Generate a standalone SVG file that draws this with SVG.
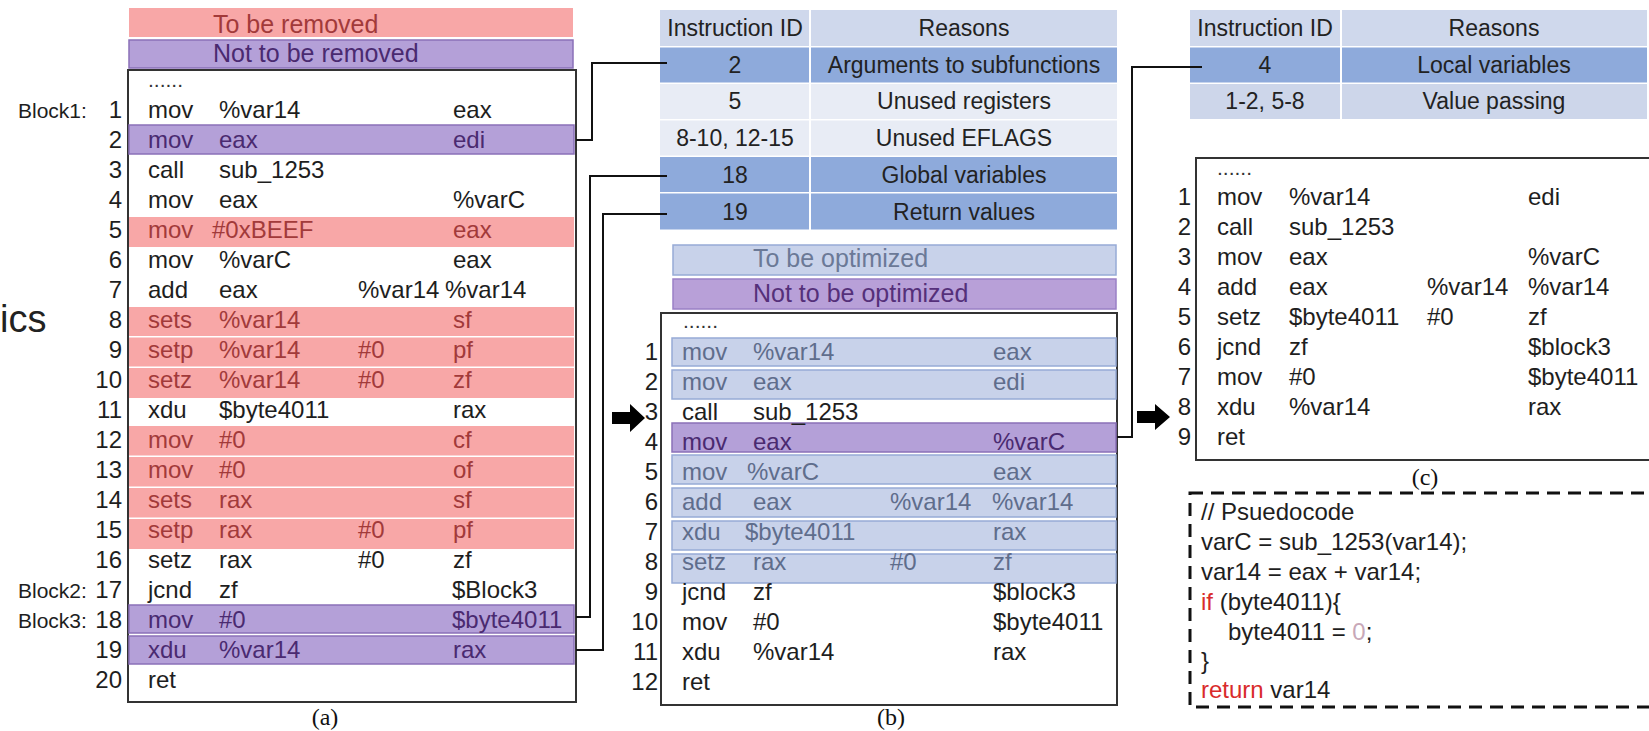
<svg xmlns="http://www.w3.org/2000/svg" width="1649" height="731" viewBox="0 0 1649 731">
  <style>
    text { font-family: "Liberation Sans", Arial, sans-serif; }
    .code { font-size: 24px; fill: #1e1e1e; }
    .num { font-size: 24px; fill: #1e1e1e; text-anchor: end; }
    .blk { font-size: 21px; fill: #1e1e1e; }
    .dots { font-size: 21px; fill: #333; }
    .cap { font-family: "Liberation Serif", "Times New Roman", serif; font-size: 24px; fill: #111; text-anchor: middle; }
    .box { fill: #fff; stroke: #333; stroke-width: 2; }
    .pink { fill: #f8a7a7; }
    .purp { fill: #b4a0d8; stroke: #8a70b8; stroke-width: 1.5; }
    .blue { fill: #c8d2ea; stroke: #97abd6; stroke-width: 1.5; }
    .t-rm { fill: #a23a3a; }
    .t-keep { fill: #4a2a70; }
    .t-opt { fill: #5f6d8c; }
    .th { fill: #cfd8ec; }
    .tm { fill: #8eaadb; }
    .tl { fill: #e8ecf5; }
    .tl2 { fill: #cdd6ea; }
    .tt { font-size: 23px; fill: #222; text-anchor: middle; }
    .leg { font-size: 25px; }
    .wire { fill: none; stroke: #111; stroke-width: 2; }
    .arrow { fill: #000; }
    .pc { font-size: 24px; fill: #1e1e1e; }
  </style>

  <!-- clipped heading word at the far left -->
  <text x="0" y="332" style="font-size:38px;fill:#222">ics</text>

  <!-- ===== Panel (a): original listing ===== -->
  <g id="legend-a">
    <rect x="129" y="8" width="444" height="29" class="pink"/>
    <text x="213" y="33" class="leg t-rm">To be removed</text>
    <rect x="129" y="40" width="444" height="28" class="purp"/>
    <text x="213" y="62" class="leg t-keep">Not to be removed</text>
  </g>

  <g id="listing-a">
    <rect x="128" y="70" width="448" height="632" class="box"/>
    <!-- row highlights -->
    <rect x="129" y="125" width="445" height="29" class="purp"/>
    <rect x="129" y="217" width="445" height="30" class="pink"/>
    <rect x="129" y="307" width="445" height="29" class="pink"/>
    <rect x="129" y="337.5" width="445" height="29" class="pink"/>
    <rect x="129" y="368" width="445" height="30" class="pink"/>
    <rect x="129" y="426" width="445" height="29.5" class="pink"/>
    <rect x="129" y="457" width="445" height="29.5" class="pink"/>
    <rect x="129" y="488" width="445" height="29.5" class="pink"/>
    <rect x="129" y="519" width="445" height="30" class="pink"/>
    <rect x="129" y="605" width="445" height="28" class="purp"/>
    <rect x="129" y="636" width="445" height="28" class="purp"/>

    <text x="18" y="118" class="blk">Block1:</text>
    <text x="18" y="598" class="blk">Block2:</text>
    <text x="18" y="628" class="blk">Block3:</text>

    <text x="148" y="87" class="dots">......</text>
    <g class="code">
      <text y="118"><tspan x="148">mov</tspan><tspan x="219">%var14</tspan><tspan x="453">eax</tspan></text>
      <text y="148" class="t-keep"><tspan x="148">mov</tspan><tspan x="219">eax</tspan><tspan x="453">edi</tspan></text>
      <text y="178"><tspan x="148">call</tspan><tspan x="219">sub_1253</tspan></text>
      <text y="208"><tspan x="148">mov</tspan><tspan x="219">eax</tspan><tspan x="453">%varC</tspan></text>
      <text y="238" class="t-rm"><tspan x="148">mov</tspan><tspan x="212">#0xBEEF</tspan><tspan x="453">eax</tspan></text>
      <text y="268"><tspan x="148">mov</tspan><tspan x="219">%varC</tspan><tspan x="453">eax</tspan></text>
      <text y="298"><tspan x="148">add</tspan><tspan x="219">eax</tspan><tspan x="358">%var14</tspan><tspan x="445">%var14</tspan></text>
      <text y="328" class="t-rm"><tspan x="148">sets</tspan><tspan x="219">%var14</tspan><tspan x="453">sf</tspan></text>
      <text y="358" class="t-rm"><tspan x="148">setp</tspan><tspan x="219">%var14</tspan><tspan x="358">#0</tspan><tspan x="453">pf</tspan></text>
      <text y="388" class="t-rm"><tspan x="148">setz</tspan><tspan x="219">%var14</tspan><tspan x="358">#0</tspan><tspan x="453">zf</tspan></text>
      <text y="418"><tspan x="148">xdu</tspan><tspan x="219">$byte4011</tspan><tspan x="453">rax</tspan></text>
      <text y="448" class="t-rm"><tspan x="148">mov</tspan><tspan x="219">#0</tspan><tspan x="453">cf</tspan></text>
      <text y="478" class="t-rm"><tspan x="148">mov</tspan><tspan x="219">#0</tspan><tspan x="453">of</tspan></text>
      <text y="508" class="t-rm"><tspan x="148">sets</tspan><tspan x="219">rax</tspan><tspan x="453">sf</tspan></text>
      <text y="538" class="t-rm"><tspan x="148">setp</tspan><tspan x="219">rax</tspan><tspan x="358">#0</tspan><tspan x="453">pf</tspan></text>
      <text y="568"><tspan x="148">setz</tspan><tspan x="219">rax</tspan><tspan x="358">#0</tspan><tspan x="453">zf</tspan></text>
      <text y="598"><tspan x="148">jcnd</tspan><tspan x="219">zf</tspan><tspan x="452">$Block3</tspan></text>
      <text y="628" class="t-keep"><tspan x="148">mov</tspan><tspan x="219">#0</tspan><tspan x="452">$byte4011</tspan></text>
      <text y="658" class="t-keep"><tspan x="148">xdu</tspan><tspan x="219">%var14</tspan><tspan x="453">rax</tspan></text>
      <text y="688"><tspan x="148">ret</tspan></text>
    </g>
    <g class="num">
      <text x="122" y="118">1</text><text x="122" y="148">2</text><text x="122" y="178">3</text>
      <text x="122" y="208">4</text><text x="122" y="238">5</text><text x="122" y="268">6</text>
      <text x="122" y="298">7</text><text x="122" y="328">8</text><text x="122" y="358">9</text>
      <text x="122" y="388">10</text><text x="122" y="418">11</text><text x="122" y="448">12</text>
      <text x="122" y="478">13</text><text x="122" y="508">14</text><text x="122" y="538">15</text>
      <text x="122" y="568">16</text><text x="122" y="598">17</text><text x="122" y="628">18</text>
      <text x="122" y="658">19</text><text x="122" y="688">20</text>
    </g>
    <text x="325" y="725" class="cap">(a)</text>
  </g>

  <!-- ===== Reasons table for (a) -> (b) ===== -->
  <g id="table-b">
    <rect x="660" y="10" width="149" height="36" class="th"/>
    <rect x="811" y="10" width="306" height="36" class="th"/>
    <rect x="660" y="47.5" width="149" height="35" class="tm"/>
    <rect x="811" y="47.5" width="306" height="35" class="tm"/>
    <rect x="660" y="84" width="149" height="35" class="tl"/>
    <rect x="811" y="84" width="306" height="35" class="tl"/>
    <rect x="660" y="120.5" width="149" height="35" class="tl"/>
    <rect x="811" y="120.5" width="306" height="35" class="tl"/>
    <rect x="660" y="157" width="149" height="35" class="tm"/>
    <rect x="811" y="157" width="306" height="35" class="tm"/>
    <rect x="660" y="193.5" width="149" height="36" class="tm"/>
    <rect x="811" y="193.5" width="306" height="36" class="tm"/>
    <text x="735" y="36" class="tt">Instruction ID</text>
    <text x="964" y="36" class="tt">Reasons</text>
    <text x="735" y="73" class="tt">2</text>
    <text x="964" y="73" class="tt">Arguments to subfunctions</text>
    <text x="735" y="109" class="tt">5</text>
    <text x="964" y="109" class="tt">Unused registers</text>
    <text x="735" y="146" class="tt">8-10, 12-15</text>
    <text x="964" y="146" class="tt">Unused EFLAGS</text>
    <text x="735" y="183" class="tt">18</text>
    <text x="964" y="183" class="tt">Global variables</text>
    <text x="735" y="220" class="tt">19</text>
    <text x="964" y="220" class="tt">Return values</text>
  </g>

  <!-- ===== Panel (b): after removal ===== -->
  <g id="legend-b">
    <rect x="673" y="245" width="443" height="30" class="blue"/>
    <text x="753" y="267" class="leg" style="fill:#6b7997">To be optimized</text>
    <rect x="673" y="279" width="443" height="30" style="fill:#b8a0d8;stroke:#9a80c6;stroke-width:1.5"/>
    <text x="753" y="302" class="leg" style="fill:#55307a">Not to be optimized</text>
  </g>

  <g id="listing-b">
    <rect x="661" y="313" width="456" height="392" class="box"/>
    <rect x="672" y="338" width="444" height="28" class="blue"/>
    <rect x="672" y="370" width="444" height="29" class="blue"/>
    <rect x="672" y="423" width="444" height="29" class="purp"/>
    <rect x="672" y="455" width="444" height="29" class="blue"/>
    <rect x="672" y="488" width="444" height="29" class="blue"/>
    <rect x="672" y="521" width="444" height="29" class="blue"/>
    <rect x="672" y="554" width="444" height="29" class="blue"/>

    <text x="683" y="328" class="dots">......</text>
    <g class="code">
      <text y="360" class="t-opt"><tspan x="682">mov</tspan><tspan x="753">%var14</tspan><tspan x="993">eax</tspan></text>
      <text y="390" class="t-opt"><tspan x="682">mov</tspan><tspan x="753">eax</tspan><tspan x="993">edi</tspan></text>
      <text y="420"><tspan x="682">call</tspan><tspan x="753">sub_1253</tspan></text>
      <text y="450" class="t-keep"><tspan x="682">mov</tspan><tspan x="753">eax</tspan><tspan x="993">%varC</tspan></text>
      <text y="480" class="t-opt"><tspan x="682">mov</tspan><tspan x="747">%varC</tspan><tspan x="993">eax</tspan></text>
      <text y="510" class="t-opt"><tspan x="682">add</tspan><tspan x="753">eax</tspan><tspan x="890">%var14</tspan><tspan x="992">%var14</tspan></text>
      <text y="540" class="t-opt"><tspan x="682">xdu</tspan><tspan x="745">$byte4011</tspan><tspan x="993">rax</tspan></text>
      <text y="570" class="t-opt"><tspan x="682">setz</tspan><tspan x="753">rax</tspan><tspan x="890">#0</tspan><tspan x="993">zf</tspan></text>
      <text y="600"><tspan x="682">jcnd</tspan><tspan x="753">zf</tspan><tspan x="993">$block3</tspan></text>
      <text y="630"><tspan x="682">mov</tspan><tspan x="753">#0</tspan><tspan x="993">$byte4011</tspan></text>
      <text y="660"><tspan x="682">xdu</tspan><tspan x="753">%var14</tspan><tspan x="993">rax</tspan></text>
      <text y="690"><tspan x="682">ret</tspan></text>
    </g>
    <g class="num">
      <text x="658" y="360">1</text><text x="658" y="390">2</text><text x="658" y="420">3</text>
      <text x="658" y="450">4</text><text x="658" y="480">5</text><text x="658" y="510">6</text>
      <text x="658" y="540">7</text><text x="658" y="570">8</text><text x="658" y="600">9</text>
      <text x="658" y="630">10</text><text x="658" y="660">11</text><text x="658" y="690">12</text>
    </g>
    <text x="891" y="725" class="cap">(b)</text>
  </g>

  <!-- ===== Reasons table for (b) -> (c) ===== -->
  <g id="table-c">
    <rect x="1190" y="10" width="150" height="36" class="th"/>
    <rect x="1342" y="10" width="305" height="36" class="th"/>
    <rect x="1190" y="47.5" width="150" height="35" class="tm"/>
    <rect x="1342" y="47.5" width="305" height="35" class="tm"/>
    <rect x="1190" y="84" width="150" height="35" class="tl2"/>
    <rect x="1342" y="84" width="305" height="35" class="tl2"/>
    <text x="1265" y="36" class="tt">Instruction ID</text>
    <text x="1494" y="36" class="tt">Reasons</text>
    <text x="1265" y="73" class="tt">4</text>
    <text x="1494" y="73" class="tt">Local variables</text>
    <text x="1265" y="109" class="tt">1-2, 5-8</text>
    <text x="1494" y="109" class="tt">Value passing</text>
  </g>

  <!-- ===== Panel (c): optimized listing ===== -->
  <g id="listing-c">
    <rect x="1196" y="158" width="470" height="302" class="box"/>
    <text x="1217" y="175" class="dots">......</text>
    <g class="code">
      <text y="205"><tspan x="1217">mov</tspan><tspan x="1289">%var14</tspan><tspan x="1528">edi</tspan></text>
      <text y="235"><tspan x="1217">call</tspan><tspan x="1289">sub_1253</tspan></text>
      <text y="265"><tspan x="1217">mov</tspan><tspan x="1289">eax</tspan><tspan x="1528">%varC</tspan></text>
      <text y="295"><tspan x="1217">add</tspan><tspan x="1289">eax</tspan><tspan x="1427">%var14</tspan><tspan x="1528">%var14</tspan></text>
      <text y="325"><tspan x="1217">setz</tspan><tspan x="1289">$byte4011</tspan><tspan x="1427">#0</tspan><tspan x="1528">zf</tspan></text>
      <text y="355"><tspan x="1217">jcnd</tspan><tspan x="1289">zf</tspan><tspan x="1528">$block3</tspan></text>
      <text y="385"><tspan x="1217">mov</tspan><tspan x="1289">#0</tspan><tspan x="1528">$byte4011</tspan></text>
      <text y="415"><tspan x="1217">xdu</tspan><tspan x="1289">%var14</tspan><tspan x="1528">rax</tspan></text>
      <text y="445"><tspan x="1217">ret</tspan></text>
    </g>
    <g class="num">
      <text x="1191" y="205">1</text><text x="1191" y="235">2</text><text x="1191" y="265">3</text>
      <text x="1191" y="295">4</text><text x="1191" y="325">5</text><text x="1191" y="355">6</text>
      <text x="1191" y="385">7</text><text x="1191" y="415">8</text><text x="1191" y="445">9</text>
    </g>
    <text x="1425" y="485" class="cap">(c)</text>
  </g>

  <!-- ===== Pseudocode ===== -->
  <g id="pseudocode">
    <rect x="1190" y="493" width="480" height="214" style="fill:none;stroke:#111;stroke-width:3;stroke-dasharray:13 8"/>
    <text x="1201" y="520" class="pc">// Psuedocode</text>
    <text x="1201" y="550" class="pc">varC = sub_1253(var14);</text>
    <text x="1201" y="580" class="pc">var14 = eax + var14;</text>
    <text x="1201" y="610" class="pc"><tspan style="fill:#d92b2b">if</tspan> (byte4011){</text>
    <text x="1228" y="640" class="pc">byte4011 = <tspan style="fill:#c8a8b8">0</tspan>;</text>
    <text x="1201" y="669" class="pc">}</text>
    <text x="1201" y="698" class="pc"><tspan style="fill:#d92b2b">return</tspan> var14</text>
  </g>

  <!-- ===== Connectors ===== -->
  <g id="connectors">
    <polyline class="wire" points="576,140 592,140 592,63 667,63"/>
    <polyline class="wire" points="576,617 590,617 590,176 667,176"/>
    <polyline class="wire" points="576,650 603,650 603,214 667,214"/>
    <polyline class="wire" points="1117,437 1132,437 1132,67 1202,67"/>
    <polygon class="arrow" points="612,412 630,412 630,404 645,418 630,432 630,424 612,424"/>
    <polygon class="arrow" points="1137,411 1155,411 1155,404 1170,417 1155,430 1155,423 1137,423"/>
  </g>
</svg>
